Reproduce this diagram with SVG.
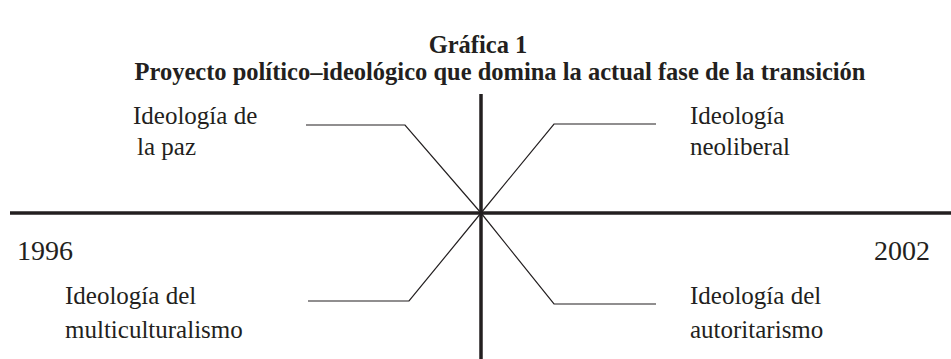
<svg xmlns="http://www.w3.org/2000/svg" width="951" height="359" viewBox="0 0 951 359">
<style>
text{font-family:"Liberation Serif","Times New Roman",serif;fill:#231f20}
.t{font-weight:bold;font-size:24.5px;text-anchor:middle}
.l{font-size:25px}
.n{font-size:28px}
.axis{stroke:#231f20;stroke-width:3.5;fill:none}
.c{stroke:#231f20;stroke-width:1.2;fill:none}
</style>
<rect width="951" height="359" fill="#fff"/>
<g id="title">
<text class="t" x="478" y="53">Gráfica 1</text>
<text class="t" x="500" y="80" textLength="731" lengthAdjust="spacingAndGlyphs">Proyecto político–ideológico que domina la actual fase de la transición</text>
</g>
<g id="axes">
<line class="axis" x1="481" y1="94" x2="481" y2="359"/>
<line class="axis" x1="10" y1="213" x2="951" y2="213"/>
</g>
<g id="connectors">
<polyline class="c" points="306,125 405,125 481,213"/>
<polyline class="c" points="656,124 554,124 481,213"/>
<polyline class="c" points="308,301 409,301 481,213"/>
<polyline class="c" points="656,304 554,304 481,213"/>
</g>
<g id="node-paz"><text class="l" x="133" y="124">Ideología de</text><text class="l" x="137" y="155">la paz</text></g>
<g id="node-neoliberal"><text class="l" x="690" y="124">Ideología</text><text class="l" x="690" y="155">neoliberal</text></g>
<g id="node-1996"><text class="n" x="17" y="260">1996</text></g>
<g id="node-2002"><text class="n" x="930" y="260" text-anchor="end">2002</text></g>
<g id="node-multi"><text class="l" x="65" y="304">Ideología del</text><text class="l" x="65" y="338">multiculturalismo</text></g>
<g id="node-auto"><text class="l" x="690" y="304">Ideología del</text><text class="l" x="690" y="338">autoritarismo</text></g>
</svg>
